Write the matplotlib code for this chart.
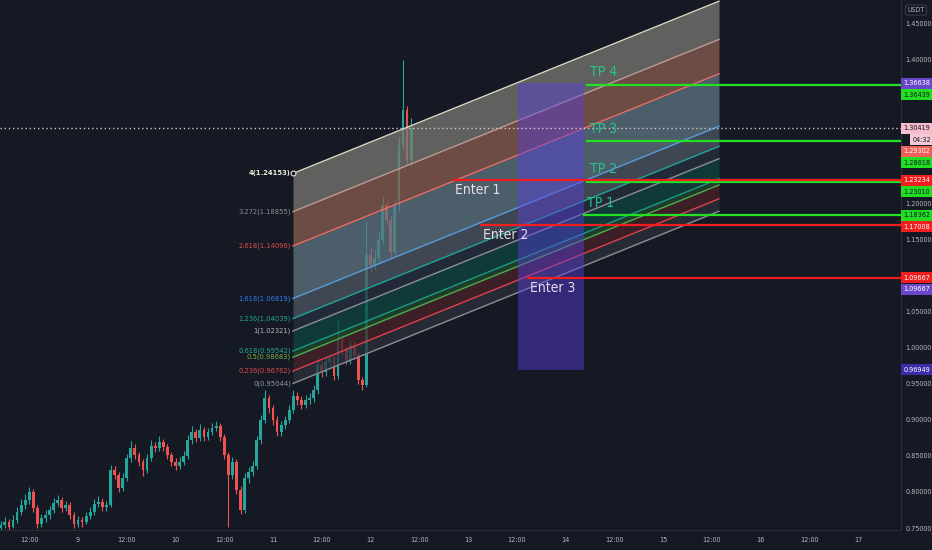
import numpy as np
import matplotlib.pyplot as plt
from matplotlib import font_manager
from matplotlib.patches import Rectangle
from matplotlib.transforms import IdentityTransform

# look for a narrow / condensed sans face, the chart text is tight
def pick_narrow():
    best = None
    for f in font_manager.fontManager.ttflist:
        cond = ('Narrow' in f.name or 'Condensed' in f.name
                or str(f.stretch) in ('condensed', 'semi-condensed', 'extra-condensed'))
        if not cond or f.style != 'normal':
            continue
        w = f.weight if isinstance(f.weight, int) else 400
        score = abs(w - 400) + (0 if 'Sans' in f.name or 'Roboto' in f.name else 50)
        if best is None or score < best[0]:
            best = (score, f)
    return best[1] if best else None

narrow = pick_narrow()
if narrow is not None:
    plt.rcParams['font.family'] = [narrow.name, 'DejaVu Sans']
    plt.rcParams['font.stretch'] = narrow.stretch
    scale = 1.0
else:
    plt.rcParams['font.family'] = ['Liberation Sans', 'DejaVu Sans']
    scale = 0.85

# hourly candles, the first one at the 8th 05:00 (time axis in days from the 8th 00:00)
first_hour = 5
first_open = 0.750
closes = [0.754, 0.758, 0.752, 0.761, 0.772, 0.782, 0.789, 0.800, 0.778, 0.756,
          0.764, 0.768, 0.775, 0.785, 0.789, 0.778, 0.782, 0.768, 0.756, 0.761,
          0.758, 0.767, 0.772, 0.783, 0.786, 0.779, 0.782, 0.831, 0.824, 0.806,
          0.819, 0.847, 0.861, 0.851, 0.842, 0.831, 0.847, 0.864, 0.861, 0.869,
          0.862, 0.851, 0.842, 0.836, 0.842, 0.850, 0.872, 0.883, 0.875, 0.886,
          0.876, 0.883, 0.889, 0.892, 0.876, 0.851, 0.824, 0.842, 0.803, 0.775,
          0.819, 0.828, 0.836, 0.872, 0.900, 0.930, 0.916, 0.900, 0.883, 0.893,
          0.900, 0.914, 0.933, 0.928, 0.921, 0.928, 0.930, 0.941, 0.976, 0.966,
          0.980, 0.986, 0.961, 1.011, 0.997, 0.983, 1.004, 0.990, 0.955, 0.948,
          1.129, 1.115, 1.124, 1.149, 1.198, 1.177, 1.133, 1.198, 1.281, 1.329,
          1.260, 1.30419]
highs = [0.760, 0.765, 0.762, 0.768, 0.779, 0.790, 0.797, 0.807, 0.804, 0.782,
         0.770, 0.775, 0.781, 0.791, 0.796, 0.793, 0.788, 0.786, 0.772, 0.767,
         0.766, 0.772, 0.779, 0.790, 0.795, 0.791, 0.788, 0.838, 0.836, 0.828,
         0.826, 0.853, 0.870, 0.866, 0.856, 0.846, 0.853, 0.872, 0.869, 0.877,
         0.874, 0.866, 0.855, 0.847, 0.848, 0.857, 0.879, 0.892, 0.888, 0.894,
         0.890, 0.889, 0.896, 0.899, 0.895, 0.880, 0.856, 0.849, 0.846, 0.808,
         0.826, 0.835, 0.843, 0.878, 0.907, 0.941, 0.935, 0.921, 0.905, 0.899,
         0.906, 0.920, 0.941, 0.938, 0.933, 0.934, 0.937, 0.948, 0.984, 0.981,
         0.988, 0.993, 0.990, 1.038, 1.016, 1.002, 1.011, 1.009, 0.994, 0.960,
         1.175, 1.140, 1.135, 1.160, 1.209, 1.204, 1.182, 1.205, 1.292, 1.399,
         1.335, 1.318]
lows = [0.748, 0.750, 0.747, 0.750, 0.757, 0.768, 0.777, 0.784, 0.772, 0.750,
        0.752, 0.758, 0.763, 0.771, 0.780, 0.772, 0.774, 0.763, 0.750, 0.752,
        0.752, 0.755, 0.762, 0.768, 0.779, 0.774, 0.774, 0.779, 0.818, 0.800,
        0.802, 0.815, 0.842, 0.846, 0.836, 0.822, 0.827, 0.843, 0.855, 0.857,
        0.857, 0.846, 0.836, 0.830, 0.832, 0.838, 0.846, 0.867, 0.869, 0.870,
        0.871, 0.872, 0.879, 0.884, 0.871, 0.846, 0.751, 0.818, 0.797, 0.770,
        0.771, 0.812, 0.822, 0.832, 0.867, 0.895, 0.910, 0.893, 0.877, 0.878,
        0.887, 0.895, 0.909, 0.921, 0.915, 0.916, 0.922, 0.925, 0.936, 0.960,
        0.961, 0.974, 0.955, 0.957, 0.990, 0.977, 0.978, 0.984, 0.950, 0.941,
        0.945, 1.105, 1.108, 1.118, 1.143, 1.170, 1.125, 1.128, 1.190, 1.275,
        1.255, 1.252]

# fib channel
fib_levels = [0, 0.236, 0.5, 0.618, 1, 1.236, 1.618, 2.618, 3.272, 4]
fib_low = 0.9504425
fib_high = 1.0232145
fib_start, fib_end = 3.205, 7.574
fib_rise = 0.2387
line_colors = ['#8a8d96', '#e0424e', '#56a84a', '#1a9e80', '#8a8fa0',
               '#1fa39a', '#5a9bdc', '#e8706a', '#c29a92', '#dcd8c4']
label_colors = ['#9598a1', '#e5484d', '#7cb342', '#22ab94', '#b2b5be',
                '#22ab94', '#3179f5', '#e5484d', '#8d9099', '#ece9d0']
band_colors = ['#2c303b', '#4a2229', '#204a2d', '#0f4642', '#27303f',
               '#4e5862', '#5e7683', '#8c5e51', '#7a7a74']

# trade plan
tp_names = ['TP 1', 'TP 2', 'TP 3', 'TP 4']
tp_prices = [1.18362, 1.23010, 1.28618, 1.36439]
tp_starts = [6.179, 6.21, 6.21, 6.21]
enter_names = ['Enter 1', 'Enter 2', 'Enter 3']
enter_prices = [1.23234, 1.17008, 1.09667]
enter_starts = [4.836, 5.123, 5.605]
box_times = (5.513, 6.190)
box_prices = (0.96949, 1.36638)
last_price = 1.30419
countdown = '04:32'

# price scale tags: price, text, face, text colour
tags = [(1.36638, '1.36638', '#6a46c8', 'white'),
        (1.36439, '1.36439', '#22dd22', '#131722'),
        (1.30419, '1.30419', '#f5bccb', '#131722'),
        (1.30419, countdown, '#f5c8d5', '#131722'),
        (1.29302, '1.29302', '#f0605a', 'white'),
        (1.28618, '1.28618', '#22dd22', '#131722'),
        (1.23234, '1.23234', '#f01e1e', 'white'),
        (1.23010, '1.23010', '#22dd22', '#131722'),
        (1.18362, '1.18362', '#22dd22', '#131722'),
        (1.17008, '1.17008', '#f01e1e', 'white'),
        (1.09667, '1.09667', '#f01e1e', 'white'),
        (1.09667, '1.09667', '#6a46c8', 'white'),
        (0.96949, '0.96949', '#3d2ca8', 'white')]
price_ticks = [1.45, 1.40, 1.20, 1.15, 1.05, 1.00, 0.95, 0.90, 0.85, 0.80, 0.75]
time_ticks = [0.5, 1, 1.5, 2, 2.5, 3, 3.5, 4, 4.5, 5, 5.5, 6, 6.5, 7, 7.5, 8, 8.5, 9]
time_labels = ['12:00', '9', '12:00', '10', '12:00', '11', '12:00', '12', '12:00',
               '13', '12:00', '14', '12:00', '15', '12:00', '16', '12:00', '17']

bg = '#151924'
W, H = 932, 550
fs_axis = 5.2 * scale
fs_fib = 5.4 * scale
fs_big = 10 * scale
fig = plt.figure(figsize=(W / 100, H / 100), dpi=100, facecolor=bg)
ax = fig.add_axes([0, 20 / H, 901 / W, 530 / H], facecolor=bg)
ax.set_xlim(0.2, 9.441)
ax.set_ylim(0.74733, 1.48191)

# candles
t = (first_hour + np.arange(len(closes))) / 24
c = np.array(closes)
o = np.r_[first_open, c[:-1]]
up = c >= o
cols = np.where(up, '#26a69a', '#ef5350')
ax.vlines(t, lows, highs, colors=cols, lw=0.8, zorder=2)
ax.bar(t, np.maximum(np.abs(c - o), 0.0015), bottom=np.minimum(o, c), width=0.7 / 24,
       color=cols, linewidth=0, zorder=2)

# fib channel
xs = [fib_start, fib_end]
lv = [fib_low + k * (fib_high - fib_low) for k in fib_levels]
for i in range(len(fib_levels) - 1):
    ax.fill_between(xs, [lv[i], lv[i] + fib_rise], [lv[i + 1], lv[i + 1] + fib_rise],
                    color=band_colors[i], alpha=0.75, lw=0, zorder=3)
for i, k in enumerate(fib_levels):
    ax.plot(xs, [lv[i], lv[i] + fib_rise], color=line_colors[i], lw=1, zorder=3.5)
    ax.annotate(f'{k:g}({lv[i]:.5f})', (fib_start, lv[i]), xytext=(-1.5, 0),
                textcoords='offset points', ha='right', va='center', fontsize=fs_fib,
                color=label_colors[i], fontweight='bold' if k == 4 else 'normal')
ax.plot(fib_start, lv[-1], 'o', ms=3.5, mfc=bg, mec='#e0e0e0', mew=0.8, zorder=4)

# entry box
ax.add_patch(Rectangle((box_times[0], box_prices[0]), box_times[1] - box_times[0],
                       box_prices[1] - box_prices[0], facecolor='#5a3ee0', alpha=0.45,
                       lw=0, zorder=4))

# last price line
ax.axhline(last_price, color='#d8c4d0', ls=(0, (1, 2)), lw=1, zorder=4)

# targets and entries
for name, p, s in zip(tp_names, tp_prices, tp_starts):
    ax.hlines(p, s, 9.441, colors='#22e022', lw=1.6, zorder=5)
    ax.annotate(name, (s, p), xytext=(3, 4), textcoords='offset points',
                ha='left', va='bottom', fontsize=fs_big, color='#24c78a', zorder=6)
for name, p, s in zip(enter_names, enter_prices, enter_starts):
    ax.hlines(p, s, 9.441, colors='#f01e1e', lw=1.6, zorder=5)
    ax.annotate(name, (s, p), xytext=(2, -2), textcoords='offset points',
                ha='left', va='top', fontsize=fs_big, color='#eadbe6', zorder=6)

# axes cosmetics
for side in ['top', 'left']:
    ax.spines[side].set_visible(False)
for side in ['bottom', 'right']:
    ax.spines[side].set_color('#2a2e39')
ax.yaxis.tick_right()
ax.set_yticks(price_ticks, [f'{v:.5f}' for v in price_ticks])
ax.set_xticks(time_ticks, time_labels)
ax.tick_params(axis='both', length=0, labelsize=fs_axis, labelcolor='#b2b5be')
ax.tick_params(axis='y', pad=3)
ax.tick_params(axis='x', pad=5)

# price scale tags, pushed down so they don't overlap
prev = -1e9
for p, text, face, fg in tags:
    y = H - ax.transData.transform((0, p))[1]
    y = max(y, prev + 11.5)
    prev = y
    x0 = 910 if text == countdown else 901
    fig.add_artist(Rectangle((x0, H - y - 5.5), W - x0, 11, transform=IdentityTransform(),
                             facecolor=face, edgecolor='none', zorder=5))
    fig.text((x0 + W) / 2 + 0.5, H - y, text, transform=IdentityTransform(), ha='center',
             va='center', fontsize=fs_axis, color=fg, zorder=6)

fig.text(916, H - 10, 'USDT', transform=IdentityTransform(), ha='center', va='center',
         fontsize=5 * scale, color='#b2b5be',
         bbox=dict(boxstyle='round,pad=0.3', fc='none', ec='#434651', lw=0.6))

fig.savefig('out.png', dpi=100, facecolor=bg)
